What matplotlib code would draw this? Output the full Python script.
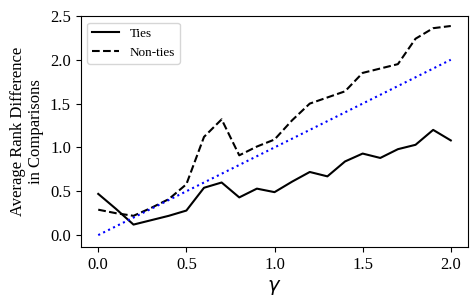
import matplotlib
matplotlib.use("Agg")
import matplotlib.pyplot as plt

gamma = [0.0, 0.1, 0.2, 0.3, 0.4, 0.5, 0.6, 0.7, 0.8, 0.9, 1.0,
         1.1, 1.2, 1.3, 1.4, 1.5, 1.6, 1.7, 1.8, 1.9, 2.0]
ties = [0.47, 0.30, 0.12, 0.17, 0.22, 0.28, 0.54, 0.60, 0.43, 0.53, 0.49,
        0.61, 0.72, 0.67, 0.84, 0.93, 0.88, 0.98, 1.03, 1.20, 1.08]
non_ties = [0.29, 0.25, 0.22, 0.31, 0.41, 0.58, 1.12, 1.32, 0.91, 1.01, 1.09,
            1.31, 1.50, 1.57, 1.64, 1.85, 1.90, 1.95, 2.24, 2.36, 2.385]
ref_x = [0.0, 2.0]
ref_y = [0.0, 2.0]

plt.rcParams['font.family'] = ['Liberation Serif', 'DejaVu Serif']
plt.rcParams['mathtext.fontset'] = 'dejavusans'

fig = plt.figure(figsize=(4.77, 3.06), dpi=100)
ax = fig.add_axes([0.169, 0.193, 0.813, 0.755])

ax.plot(gamma, ties, color='black', linestyle='-', linewidth=1.5, label='Ties')
ax.plot(gamma, non_ties, color='black', linestyle='--', linewidth=1.5, label='Non-ties')
ax.plot(ref_x, ref_y, color='blue', linestyle=':', linewidth=1.5)

ax.set_xlim(-0.1, 2.1)
ax.set_ylim(-0.135, 2.5)
ax.set_xticks([0.0, 0.5, 1.0, 1.5, 2.0])
ax.set_yticks([0.0, 0.5, 1.0, 1.5, 2.0, 2.5])
ax.tick_params(labelsize=12)
ax.set_xlabel(r'$\gamma$', fontsize=14)
ax.set_ylabel('Average Rank Difference\nin Comparisons', fontsize=12, labelpad=4)
ax.legend(loc='upper left', fontsize=9.5)

fig.savefig('out.png', dpi=100)
